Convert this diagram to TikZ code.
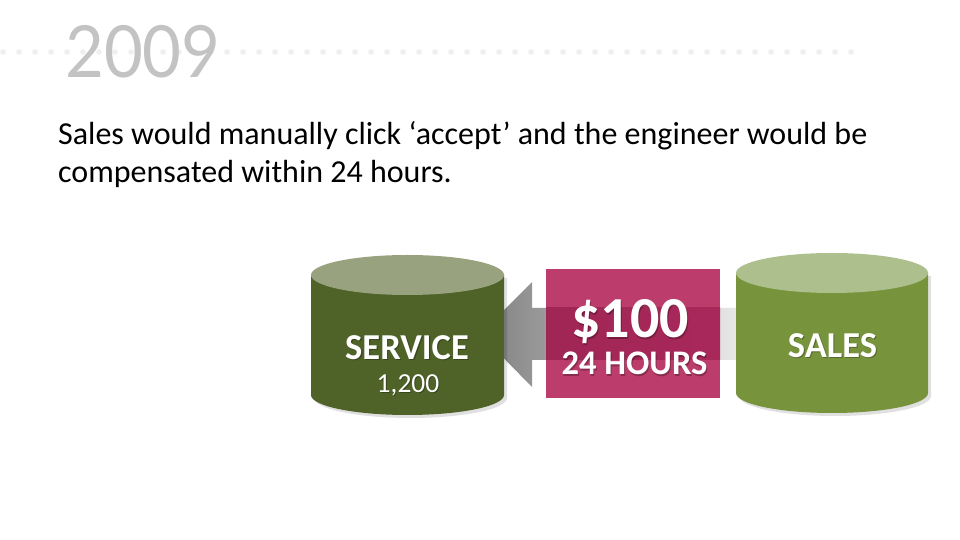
\documentclass[tikz,border=0pt]{standalone}
\usepackage{fontspec}
\setmainfont{Carlito}
\newfontfamily\yearfont{Lato}
\begin{document}
\begin{tikzpicture}[x=1pt,y=1pt,
  dotc/.style={fill=dotgray},
  boldlbl/.style={font=\bfseries, text=white, inner sep=0pt, anchor=base},
  lbl/.style={text=white, inner sep=0pt, anchor=base},
  shadowlbl/.style={text=black, opacity=0.28, inner sep=0pt, anchor=base},
  bodytxt/.style={font=\fontsize{32}{32}\selectfont, anchor=base west, inner sep=0pt}]
\definecolor{dotgray}{HTML}{EFEFEF}
\definecolor{yeargray}{HTML}{C3C3C3}
\definecolor{servbody}{HTML}{4F6228}
\definecolor{servtop}{HTML}{98A27F}
\definecolor{salesbody}{HTML}{77933C}
\definecolor{salestop}{HTML}{ADBF8C}
\definecolor{pinkbox}{HTML}{BC3D6B}
\definecolor{pinkband}{HTML}{A8285A}
\definecolor{arrowdark}{HTML}{808080}
\definecolor{arrowlight}{HTML}{EDEDED}
\useasboundingbox[fill=white] (0,0) rectangle (960,540);
% dotted rule
\foreach \i in {0,...,53} {\fill[dotc] (3+16*\i,488) circle (2.8);}
% year
\node[font=\yearfont\fontsize{72}{72}\selectfont, text=yeargray, anchor=base west, inner sep=0pt, xscale=0.93] (year) at (65,462) {2009};
% body text
\node[bodytxt] (line1) at (58,395) {Sales would manually click ‘accept’ and the engineer would be};
\node[bodytxt] (line2) at (58,357) {compensated within 24 hours.};
% arrow (connector from sales to service)
\coordinate (tip) at (480,206);
\coordinate (tail) at (750,206);
\shade[left color=arrowdark, right color=arrowlight, shading angle=90]
  (tip) -- (532,258) -- (532,232) -- (tail |- 0,232) -- (tail |- 0,180) -- (532,180) -- (532,153) -- cycle;
% service cylinder
\fill[black, opacity=0.12] (314,262) -- (314,142) arc[start angle=180,end angle=360,x radius=96.5,y radius=20] -- (507,262) -- cycle;
\fill[servbody] (311,265) -- (311,145) arc[start angle=180,end angle=360,x radius=96.5,y radius=20] -- (504,265) -- cycle;
\fill[servtop] (407.5,265) ellipse[x radius=96.5, y radius=20];
\node[shadowlbl, font=\bfseries\fontsize{36.5}{36.5}\selectfont] (servsh) at (408.2,179.2) {SERVICE};
\node[boldlbl, font=\bfseries\fontsize{36.5}{36.5}\selectfont] (service) at (407,180) {SERVICE};
\node[shadowlbl, font=\fontsize{27.5}{27.5}\selectfont] (numsh) at (409,146.2) {1,200};
\node[lbl, font=\fontsize{27.5}{27.5}\selectfont] (num) at (408,147) {1,200};
% sales cylinder
\fill[black, opacity=0.12] (739,264) -- (739,144) arc[start angle=180,end angle=360,x radius=96,y radius=20] -- (931,264) -- cycle;
\fill[salesbody] (736,267) -- (736,147) arc[start angle=180,end angle=360,x radius=96,y radius=20] -- (928,267) -- cycle;
\fill[salestop] (832,267) ellipse[x radius=96, y radius=20];
\node[shadowlbl, font=\bfseries\fontsize{36.5}{36.5}\selectfont] (salessh) at (833.5,181.2) {SALES};
\node[boldlbl, font=\bfseries\fontsize{36.5}{36.5}\selectfont] (sales) at (832.5,182) {SALES};
% pink box
\fill[pinkbox] (546,142) rectangle (720,271);
\shade[left color=pinkband!95!black, right color=pinkband] (546,180) rectangle (720,232);
\node[shadowlbl, font=\bfseries\fontsize{58}{58}\selectfont] (amtsh) at (631,200.8) {\$100};
\node[boldlbl, font=\bfseries\fontsize{58}{58}\selectfont] (amount) at (630,202) {\$100};
\node[shadowlbl, font=\bfseries\fontsize{34.5}{34.5}\selectfont] (hrsh) at (635.5,163.8) {24 HOURS};
\node[boldlbl, font=\bfseries\fontsize{34.5}{34.5}\selectfont] (hours) at (634.5,165) {24 HOURS};
\end{tikzpicture}
\end{document}
